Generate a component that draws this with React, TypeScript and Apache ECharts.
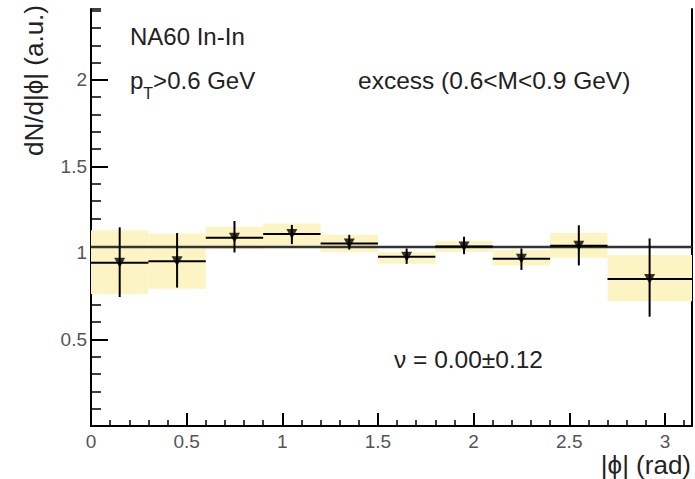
import React, { useEffect, useRef } from "react";
import * as echarts from "echarts";

// ---- data ----
const binLow = [0, 0.3, 0.6, 0.9, 1.2, 1.5, 1.8, 2.1, 2.4, 2.7];
const binHigh = [0.3, 0.6, 0.9, 1.2, 1.5, 1.8, 2.1, 2.4, 2.7, Math.PI];
const binCenter = [0.15, 0.45, 0.75, 1.05, 1.35, 1.65, 1.95, 2.25, 2.55, 2.92];
const yieldValues = [0.943, 0.952, 1.088, 1.11, 1.055, 0.978, 1.038, 0.966, 1.042, 0.85];
const statHigh = [1.148, 1.115, 1.185, 1.162, 1.105, 1.026, 1.094, 1.026, 1.16, 1.084];
const statLow = [0.745, 0.8, 1.003, 1.051, 1.02, 0.937, 0.993, 0.902, 0.928, 0.632];
const sysHigh = [1.132, 1.113, 1.152, 1.171, 1.105, 1.004, 1.07, 1.016, 1.116, 0.988];
const sysLow = [0.763, 0.793, 1.022, 1.034, 1.004, 0.938, 1.006, 0.927, 0.972, 0.721];
const fitLevel = 1.034;

const xMin = 0;
const xMax = Math.PI;
const yMin = 0;
const yMax = 2.41;
const majorStep = 0.5;
const minorStep = 0.1;

const FONT = "'Liberation Sans', Arial, Helvetica, sans-serif";

export default function App() {
  const ref = useRef<HTMLDivElement>(null);
  useEffect(() => {
    if (!ref.current) return;
    const chart = echarts.init(ref.current, undefined, { renderer: "svg" });

    const isMajor = (v: number) => Math.abs(v / majorStep - Math.round(v / majorStep)) < 1e-6;

    const bandData = binLow.map((x0, i) => [x0, binHigh[i], sysLow[i], sysHigh[i]]);
    const errData = binLow.map((x0, i) => [x0, binHigh[i], binCenter[i], yieldValues[i], statLow[i], statHigh[i]]);
    const pointData = binCenter.map((x, i) => [x, yieldValues[i]]);

    const option: any = {
      animation: false,
      backgroundColor: "#fff",
      grid: { left: 91, right: 2, top: 9, bottom: 53, containLabel: false },
      xAxis: [
        {
          type: "value",
          min: xMin,
          max: xMax,
          interval: majorStep,
          axisLine: { show: true, lineStyle: { color: "#000", width: 2 } },
          axisTick: { show: true, inside: true, length: 13, lineStyle: { color: "#000", width: 2 } },
          axisLabel: {
            show: true,
            margin: 6,
            fontSize: 19,
            color: "#555",
            fontFamily: FONT,
            formatter: (v: number) => (isMajor(v) ? String(v) : ""),
          },
          splitLine: { show: false },
        },
        {
          type: "value",
          min: xMin,
          max: xMax,
          interval: minorStep,
          position: "bottom",
          axisLine: { show: false },
          axisTick: { show: true, inside: true, length: 6, lineStyle: { color: "#000", width: 1.5 } },
          axisLabel: { show: false },
          splitLine: { show: false },
        },
      ],
      yAxis: [
        {
          type: "value",
          min: yMin,
          max: yMax,
          interval: majorStep,
          position: "left",
          axisLine: { show: true, lineStyle: { color: "#000", width: 2 } },
          axisTick: { show: true, inside: true, length: 17, lineStyle: { color: "#000", width: 2 } },
          axisLabel: {
            show: true,
            margin: 4,
            fontSize: 19,
            color: "#555",
            fontFamily: FONT,
            showMinLabel: false,
            showMaxLabel: false,
            formatter: (v: number) => (isMajor(v) && v > 0 ? String(v) : ""),
          },
          splitLine: { show: false },
        },
        {
          type: "value",
          min: yMin,
          max: yMax,
          interval: minorStep,
          position: "left",
          axisLine: { show: false },
          axisTick: { show: true, inside: true, length: 10, lineStyle: { color: "#000", width: 1.5 } },
          axisLabel: { show: false },
          splitLine: { show: false },
        },
        {
          type: "value",
          min: yMin,
          max: yMax,
          position: "right",
          axisLine: { show: true, lineStyle: { color: "#000", width: 2 } },
          axisTick: { show: false },
          axisLabel: { show: false },
          splitLine: { show: false },
        },
      ],
      series: [
        {
          type: "custom",
          name: "syst",
          xAxisIndex: 0,
          yAxisIndex: 0,
          data: bandData,
          encode: { x: [0, 1], y: [2, 3] },
          z: 1,
          renderItem: (params: any, api: any) => {
            const p0 = api.coord([api.value(0), api.value(3)]);
            const p1 = api.coord([api.value(1), api.value(2)]);
            return {
              type: "rect",
              shape: { x: p0[0], y: p0[1], width: p1[0] - p0[0], height: p1[1] - p0[1] },
              style: { fill: "#fdf4c3" },
            };
          },
        },
        {
          type: "line",
          name: "fit",
          xAxisIndex: 0,
          yAxisIndex: 0,
          data: [
            [xMin, fitLevel],
            [xMax, fitLevel],
          ],
          showSymbol: false,
          symbol: "none",
          lineStyle: { color: "#333", width: 2.5 },
          z: 2,
        },
        {
          type: "custom",
          name: "stat",
          xAxisIndex: 0,
          yAxisIndex: 0,
          data: errData,
          encode: { x: [0, 1], y: [4, 5] },
          z: 3,
          renderItem: (params: any, api: any) => {
            const left = api.coord([api.value(0), api.value(3)]);
            const right = api.coord([api.value(1), api.value(3)]);
            const lo = api.coord([api.value(2), api.value(4)]);
            const hi = api.coord([api.value(2), api.value(5)]);
            const st = { stroke: "#000", lineWidth: 2 };
            return {
              type: "group",
              children: [
                { type: "line", shape: { x1: left[0], y1: left[1], x2: right[0], y2: right[1] }, style: st },
                { type: "line", shape: { x1: hi[0], y1: hi[1], x2: lo[0], y2: lo[1] }, style: st },
              ],
            };
          },
        },
        {
          type: "scatter",
          name: "points",
          xAxisIndex: 0,
          yAxisIndex: 0,
          data: pointData,
          symbol: "triangle",
          symbolRotate: 180,
          symbolSize: [11, 10],
          itemStyle: { color: "#000" },
          z: 4,
        },
      ],
      graphic: [
        {
          type: "text",
          left: 130,
          top: 24,
          style: { text: "NA60 In-In", fontSize: 24, fontFamily: FONT, fill: "#222" },
          z: 10,
        },
        {
          type: "text",
          left: 130,
          top: 68,
          style: {
            text: "{p|p}{s|T}{p|>0.6 GeV}",
            fontFamily: FONT,
            fill: "#222",
            rich: {
              p: { fontSize: 24, fontFamily: FONT, fill: "#222", verticalAlign: "bottom" },
              s: { fontSize: 16, fontFamily: FONT, fill: "#222", verticalAlign: "bottom", padding: [0, 0, -9, 0] },
            },
          },
          z: 10,
        },
        {
          type: "text",
          left: 358,
          top: 68,
          style: { text: "excess (0.6<M<0.9 GeV)", fontSize: 24.5, fontFamily: FONT, fill: "#222" },
          z: 10,
        },
        {
          type: "text",
          left: 394,
          top: 347,
          style: { text: "ν = 0.00±0.12", fontSize: 24.5, fontFamily: FONT, fill: "#222" },
          z: 10,
        },
        {
          type: "text",
          x: 691,
          y: 465,
          style: {
            text: "|ϕ| (rad)",
            fontSize: 26,
            fontFamily: FONT,
            fill: "#222",
            textAlign: "right",
            textVerticalAlign: "middle",
          },
          z: 10,
        },
        {
          type: "text",
          x: 34,
          y: 5,
          rotation: Math.PI / 2,
          style: {
            text: "dN/d|ϕ| (a.u.)",
            fontSize: 26,
            fontFamily: FONT,
            fill: "#222",
            textAlign: "right",
            textVerticalAlign: "middle",
          },
          z: 10,
        },
      ],
    };

    chart.setOption(option);
    return () => chart.dispose();
  }, []);

  return (
    <div
      ref={ref}
      style={{ position: "fixed", left: 0, top: 0, width: 695, height: 479, background: "#fff" }}
    />
  );
}
